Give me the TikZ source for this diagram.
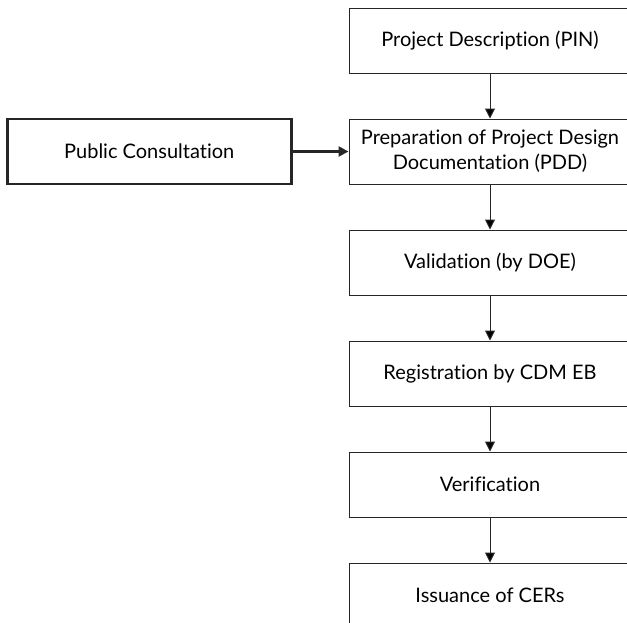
\documentclass[tikz,border=0pt]{standalone}
\usepackage{fontspec}
\setmainfont[Ligatures={NoCommon}]{Lato}
\usetikzlibrary{positioning, arrows.meta}
\tikzset{
        >={Triangle[width=10pt,length=10pt]}, % filled heads
        node distance=45pt, % gap between two stages
        stage/.style={draw=black!85, line width=1pt, minimum width=282pt, minimum height=65pt,
                      inner sep=0pt, align=center, font=\fontsize{20}{25}\selectfont},
        input/.style={stage, line width=2.5pt, minimum width=284pt},
    }

\begin{document}
\begin{tikzpicture}
    \useasboundingbox (0,0) rectangle (627pt,-622pt);
    \clip (0,0) rectangle (627pt,-622pt);
    \node[stage] (pin) at (490pt,-40.5pt) {Project Description (PIN)};
    \node[stage, below=of pin] (pdd) {Preparation of Project Design\\Documentation (PDD)};
    \node[stage, below=of pdd] (val) {Validation (by DOE)};
    \node[stage, below=of val] (reg) {Registration by CDM EB};
    \node[stage, below=of reg] (ver) {Verification};
    \node[stage, below=of ver] (iss) {Issuance of CERs};
    \node[input, left=56pt of pdd] (pc) {Public Consultation};
    \draw[->, line width=1pt, draw=black!85]
      (pin) edge (pdd)
      (pdd) edge (val)
      (val) edge (reg)
      (reg) edge (ver)
      (ver) edge (iss);
    \draw[->, line width=2.5pt, draw=black!85] (pc) -- (pdd);
\end{tikzpicture}
\end{document}
